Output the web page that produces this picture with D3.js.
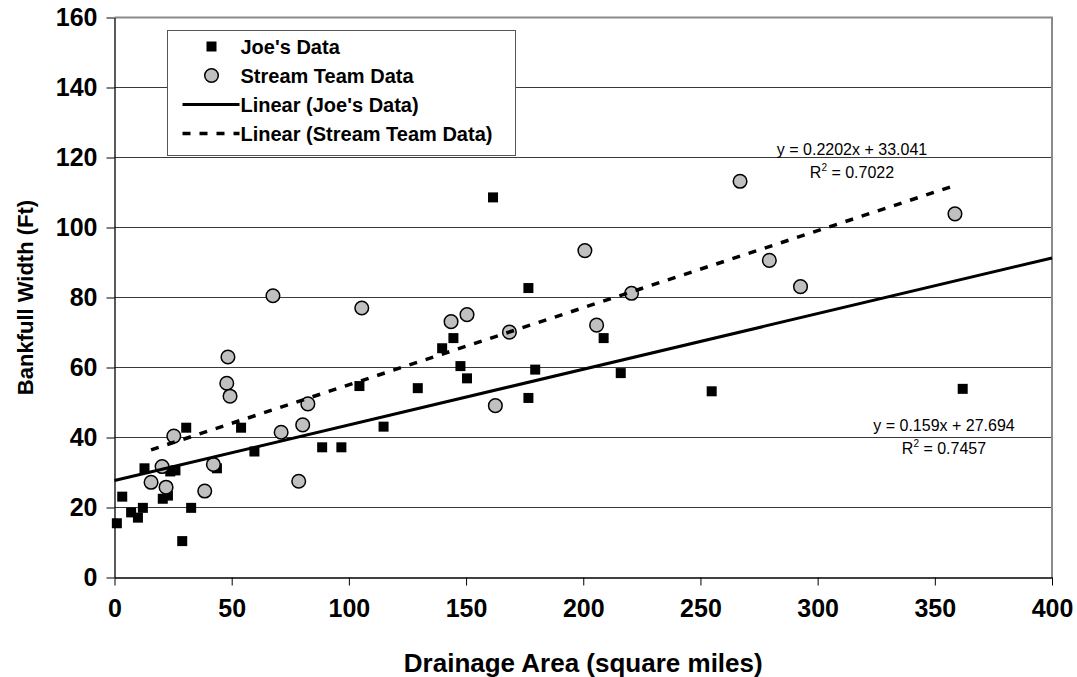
<!DOCTYPE html>
<html>
<head>
<meta charset="utf-8">
<script src="https://cdn.jsdelivr.net/npm/d3@7"></script>
<style>
  body { margin: 0; background: #fff; }
  svg { display: block; font-family: "Liberation Sans", Arial, sans-serif; }
</style>
</head>
<body>
<svg width="1077" height="677"></svg>
<script>
  // Joe's Data (drainage area, bankfull width)
  var joeX = [1.0, 3.3, 7.1, 10, 12.1, 12.8, 20.6, 22.8, 23.8, 26, 28.9, 30.6, 32.7, 43.7, 54.0, 59.7,
              88.6, 96.8, 104.5, 114.8, 129.4, 139.8, 144.6, 147.6, 150.4, 161.5, 176.6, 176.6, 179.5,
              208.7, 216, 254.8, 361.9];
  var joeY = [15.5, 23.1, 18.6, 17.1, 19.9, 31.2, 22.5, 23.4, 30.3, 30.6, 10.4, 42.8, 19.9, 31.2, 42.8, 36,
              37.2, 37.2, 54.7, 43.1, 54.1, 65.5, 68.4, 60.4, 56.9, 108.6, 82.7, 51.3, 59.4,
              68.4, 58.4, 53.2, 53.9];

  // Stream Team Data
  var teamX = [15.6, 20.3, 22, 25.3, 38.5, 42.2, 47.9, 48.4, 49.3, 67.6, 71.1, 78.6, 80.3, 82.5, 105.5,
               143.6, 150.4, 162.5, 168.5, 200.7, 205.7, 220.6, 266.9, 279.4, 292.7, 358.6];
  var teamY = [27.2, 31.7, 25.8, 40.4, 24.7, 32.3, 55.5, 63.0, 51.8, 80.5, 41.5, 27.5, 43.6, 49.6, 77.0,
               73.1, 75.1, 49.1, 70.1, 93.4, 72.1, 81.2, 113.2, 90.6, 83.1, 103.9];

  // trendline coefficients as printed on the chart
  var joeFit = {slope: 0.159, intercept: 27.694, r2: "0.7457"};
  var teamFit = {slope: 0.2202, intercept: 33.041, r2: "0.7022"};

  var xTicks = d3.range(0, 401, 50);
  var yTicks = d3.range(0, 161, 20);

  var svg = d3.select("svg"),
      margin = {top: 17.5, left: 114.5},
      width = 937.5,
      height = 560,
      g = svg.append("g").attr("transform", "translate(" + margin.left + "," + margin.top + ")");

  var x = d3.scaleLinear().domain([0, 400]).range([0, width]);
  var y = d3.scaleLinear().domain([0, 160]).range([height, 0]);

  // horizontal gridlines
  g.append("g")
    .selectAll("line")
    .data(yTicks.filter(function(d) { return d > 0 && d < 160; }))
    .enter().append("line")
      .attr("x1", 0).attr("x2", width)
      .attr("y1", function(d) { return y(d); })
      .attr("y2", function(d) { return y(d); })
      .attr("stroke", "#3a3a3a")
      .attr("stroke-width", 1);

  // plot area border (top and right)
  g.append("path")
      .attr("d", "M0," + y(160) + "H" + width + "V" + height)
      .attr("fill", "none")
      .attr("stroke", "#8a8a8a")
      .attr("stroke-width", 2);

  // axes
  var xAxis = g.append("g")
      .attr("transform", "translate(0," + height + ")")
      .call(d3.axisBottom(x).tickValues(xTicks).tickSize(8).tickPadding(14).tickSizeOuter(0));

  var yAxis = g.append("g")
      .call(d3.axisLeft(y).tickValues(yTicks).tickSize(8).tickPadding(9).tickSizeOuter(0));

  [xAxis, yAxis].forEach(function(a) {
    a.select(".domain").attr("stroke", "#000").attr("stroke-width", 1.3);
    a.selectAll(".tick line").attr("stroke", "#000");
    a.selectAll(".tick text")
        .attr("fill", "#000")
        .style("font-family", "'Liberation Sans', Arial, sans-serif")
        .style("font-size", "25px")
        .style("font-weight", "bold");
  });

  // series markers
  g.append("g")
    .selectAll("rect")
    .data(d3.range(joeX.length))
    .enter().append("rect")
      .attr("x", function(i) { return x(joeX[i]) - 5; })
      .attr("y", function(i) { return y(joeY[i]) - 5; })
      .attr("width", 10)
      .attr("height", 10)
      .attr("fill", "#000");

  g.append("g")
    .selectAll("circle")
    .data(d3.range(teamX.length))
    .enter().append("circle")
      .attr("cx", function(i) { return x(teamX[i]); })
      .attr("cy", function(i) { return y(teamY[i]); })
      .attr("r", 6.8)
      .attr("fill", "#c0c0c0")
      .attr("stroke", "#000")
      .attr("stroke-width", 1.5);

  // trendlines
  var line = d3.line()
      .x(function(d) { return x(d); });

  g.append("path")
      .datum([0, 400])
      .attr("d", line.y(function(d) { return y(joeFit.slope * d + joeFit.intercept); }))
      .attr("fill", "none")
      .attr("stroke", "#000")
      .attr("stroke-width", 3);

  g.append("path")
      .datum(d3.extent(teamX))
      .attr("d", line.y(function(d) { return y(teamFit.slope * d + teamFit.intercept); }))
      .attr("fill", "none")
      .attr("stroke", "#000")
      .attr("stroke-width", 3.5)
      .attr("stroke-dasharray", "8,9");

  // equation labels
  function equation(fit, cx, cy) {
    var t = svg.append("g").attr("font-size", "16px").attr("fill", "#000").attr("text-anchor", "middle");
    t.append("text")
        .attr("x", cx).attr("y", cy)
        .text("y = " + fit.slope + "x + " + fit.intercept);
    var r = t.append("text")
        .attr("x", cx).attr("y", cy + 23);
    r.append("tspan").text("R");
    r.append("tspan").attr("font-size", "10px").attr("dy", -7).text("2");
    r.append("tspan").attr("dy", 7).text(" = " + fit.r2);
  }
  equation(teamFit, 852, 155);
  equation(joeFit, 944, 431);

  // legend
  var legend = svg.append("g").attr("transform", "translate(167.5,30.5)");
  legend.append("rect")
      .attr("width", 348).attr("height", 125)
      .attr("fill", "#fff")
      .attr("stroke", "#555")
      .attr("stroke-width", 1);

  var items = ["Joe's Data", "Stream Team Data", "Linear (Joe's Data)", "Linear (Stream Team Data)"];
  var row = function(i) { return 16 + i * 29; };

  legend.selectAll("text")
    .data(items)
    .enter().append("text")
      .attr("x", 73)
      .attr("y", function(d, i) { return row(i); })
      .attr("dy", "0.36em")
      .attr("font-size", "20px")
      .attr("font-weight", "bold")
      .text(function(d) { return d; });

  legend.append("rect")
      .attr("x", 39).attr("y", row(0) - 5)
      .attr("width", 10).attr("height", 10)
      .attr("fill", "#000");
  legend.append("circle")
      .attr("cx", 44).attr("cy", row(1))
      .attr("r", 6.8)
      .attr("fill", "#c0c0c0")
      .attr("stroke", "#000")
      .attr("stroke-width", 1.5);
  legend.append("line")
      .attr("x1", 15).attr("x2", 72)
      .attr("y1", row(2)).attr("y2", row(2))
      .attr("stroke", "#000").attr("stroke-width", 3);
  legend.append("line")
      .attr("x1", 15).attr("x2", 72)
      .attr("y1", row(3)).attr("y2", row(3))
      .attr("stroke", "#000").attr("stroke-width", 3.5)
      .attr("stroke-dasharray", "8,9");

  // axis titles
  svg.append("text")
      .attr("x", margin.left + width / 2)
      .attr("y", 672)
      .attr("text-anchor", "middle")
      .attr("font-size", "26px")
      .attr("font-weight", "bold")
      .text("Drainage Area (square miles)");

  svg.append("text")
      .attr("transform", "translate(33," + (margin.top + height / 2) + ") rotate(-90)")
      .attr("text-anchor", "middle")
      .attr("font-size", "22px")
      .attr("font-weight", "bold")
      .text("Bankfull Width (Ft)");
</script>
</body>
</html>
